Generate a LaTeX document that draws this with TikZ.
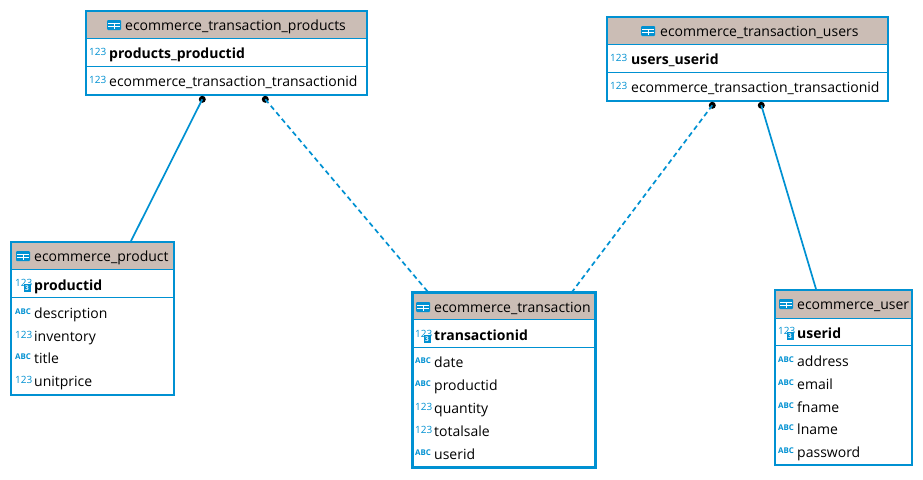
\documentclass[tikz,border=0pt]{standalone}
\usepackage{fontspec}
\setmainfont{Open Sans}
\definecolor{dbblue}{RGB}{0,145,210}
\definecolor{dbhead}{RGB}{203,189,181}
\tikzset{
  tablebox/.style={draw=dbblue,line width=2pt,fill=white,anchor=north west,inner sep=0pt,outer sep=0pt},
  headbox/.style={fill=dbhead,anchor=north west,inner sep=0pt,outer sep=0pt},
  headtext/.style={anchor=west,inner sep=0pt,text height=13pt,text depth=3pt,font=\fontsize{14}{16}\selectfont},
  coltext/.style={headtext},
  keytext/.style={headtext,font=\fontsize{14}{16}\selectfont\bfseries},
  numicon/.style={anchor=west,inner sep=0pt,text=dbblue,font=\fontsize{10}{10}\selectfont},
  abcicon/.style={anchor=west,inner sep=0pt,text=dbblue,font=\fontsize{7.9}{9}\selectfont\bfseries},
  keyicon/.style={anchor=center,inner sep=0pt,minimum width=7pt,minimum height=8pt,fill=dbblue,text=white,font=\fontsize{6.5}{6}\selectfont\bfseries},
  sepline/.style={draw=dbblue,line width=0.8pt},
  linkdot/.style={circle,fill=black,inner sep=0pt,minimum size=7pt},
  link/.style={draw=dbblue,line width=1.7pt},
  dashlink/.style={link,dash pattern=on 5pt off 3.5pt},
  tblicon/.pic={
    \fill[dbblue,rounded corners=1pt] (0,-5) rectangle (14,5);
    \draw[white,line width=0.8pt] (0.8,-2) -- (13.2,-2) (0.8,1.5) -- (13.2,1.5) (7,-2) -- (7,4.2);
  }
}
\begin{document}
\begin{tikzpicture}[x=1pt,y=-1pt]
\useasboundingbox (0,0) rectangle (923,479);
\fill[white] (0,0) rectangle (923,479);
% link table to product and transaction
\node[tablebox,minimum width=281pt,minimum height=83.5pt] (tprod) at (86,11) {};
\node[headbox,minimum width=279pt,minimum height=27pt] (tprodhead) at (87,12) {};
\draw[sepline] (87,38.5) -- (366,38.5) (87,66.5) -- (366,66.5);
\pic at (107,25) {tblicon};
\node[headtext] (tprodname) at (125,25) {ecommerce\_transaction\_products};
\node[numicon] (tprodi1) at (89,52) {123};
\node[keytext] (tprodkey) at (109,53) {products\_productid};
\node[numicon] (tprodi2) at (89,80) {123};
\node[coltext] (tprodcol) at (109,81) {ecommerce\_transaction\_transactionid};
% link table to user and transaction
\node[tablebox,minimum width=281.5pt,minimum height=84pt] (tuser) at (606.8,16.5) {};
\node[headbox,minimum width=279.5pt,minimum height=27pt] (tuserhead) at (607.8,17.5) {};
\draw[sepline] (608,44.5) -- (887,44.5) (608,72.5) -- (887,72.5);
\pic at (641,31) {tblicon};
\node[headtext] (tusername) at (660,31) {ecommerce\_transaction\_users};
\node[numicon] (tuseri1) at (610,58) {123};
\node[keytext] (tuserkey) at (631,59) {users\_userid};
\node[numicon] (tuseri2) at (610,86) {123};
\node[coltext] (tusercol) at (631,87) {ecommerce\_transaction\_transactionid};
% product
\node[tablebox,minimum width=163pt,minimum height=153.5pt] (prod) at (11,241.7) {};
\node[headbox,minimum width=161pt,minimum height=27pt] (prodhead) at (12,242.7) {};
\draw[sepline] (12,269.5) -- (173,269.5) (12,297.3) -- (173,297.3);
\pic at (16,256) {tblicon};
\node[headtext] (prodname) at (34,256) {ecommerce\_product};
\node[numicon] (prodi) at (15,283) {123};
\node[keyicon] (prodb) at (27,288) {3};
\node[keytext] (prodkey) at (34,285) {productid};
\foreach \ty/\ictext/\lbl/\yy in {abcicon/ABC/description/313,numicon/123/inventory/336,abcicon/ABC/title/358,numicon/123/unitprice/381}
{
  \node[\ty] (prodi-\lbl) at (15,\yy-1) {\ictext};
  \node[coltext] (prod-\lbl) at (34,\yy) {\lbl};
}
% transaction
\node[tablebox,line width=3pt,minimum width=183pt,minimum height=175pt] (trans) at (412,292.5) {};
\node[headbox,minimum width=180pt,minimum height=25.5pt] (transhead) at (413.5,294) {};
\draw[sepline] (413,319.5) -- (594,319.5) (413,347.3) -- (594,347.3);
\pic at (416,307) {tblicon};
\node[headtext] (transname) at (434,307) {ecommerce\_transaction};
\node[numicon] (transi) at (415,334) {123};
\node[keyicon] (transb) at (427,339) {3};
\node[keytext] (transkey) at (434,335) {transactionid};
\foreach \ty/\ictext/\lbl/\yy in {abcicon/ABC/date/362,abcicon/ABC/productid/385,numicon/123/quantity/408,numicon/123/totalsale/431,abcicon/ABC/userid/454}
{
  \node[\ty] (transi-\lbl) at (415,\yy-1) {\ictext};
  \node[coltext] (trans-\lbl) at (434,\yy) {\lbl};
}
% user
\node[tablebox,minimum width=137pt,minimum height=175pt] (user) at (775,290) {};
\node[headbox,minimum width=135pt,minimum height=27pt] (userhead) at (776,291) {};
\draw[sepline] (776,318) -- (911,318) (776,345) -- (911,345);
\pic at (779,304) {tblicon};
\node[headtext] (username) at (797,304) {ecommerce\_user};
\node[numicon] (useri) at (778,331) {123};
\node[keyicon] (userb) at (790,336) {3};
\node[keytext] (userkey) at (797,333) {userid};
\foreach \ty/\ictext/\lbl/\yy in {abcicon/ABC/address/361,abcicon/ABC/email/384,abcicon/ABC/fname/407,abcicon/ABC/lname/429,abcicon/ABC/password/452}
{
  \node[\ty] (useri-\lbl) at (778,\yy-1) {\ictext};
  \node[coltext] (user-\lbl) at (797,\yy) {\lbl};
}
% connectors
\node[linkdot] (c1a) at (202.3,99.3) {};
\coordinate (c1b) at (131,241);
\node[linkdot] (c2a) at (265.3,99.3) {};
\coordinate (c2b) at (428,292);
\node[linkdot] (c3a) at (712.3,105.3) {};
\coordinate (c3b) at (572,292);
\node[linkdot] (c4a) at (761.3,105.3) {};
\coordinate (c4b) at (816,289);
\draw[link] (c1a.center) -- (c1b);
\draw[dashlink] (c2a.center) -- (c2b);
\draw[dashlink] (c3a.center) -- (c3b);
\draw[link] (c4a.center) -- (c4b);
\end{tikzpicture}
\end{document}
